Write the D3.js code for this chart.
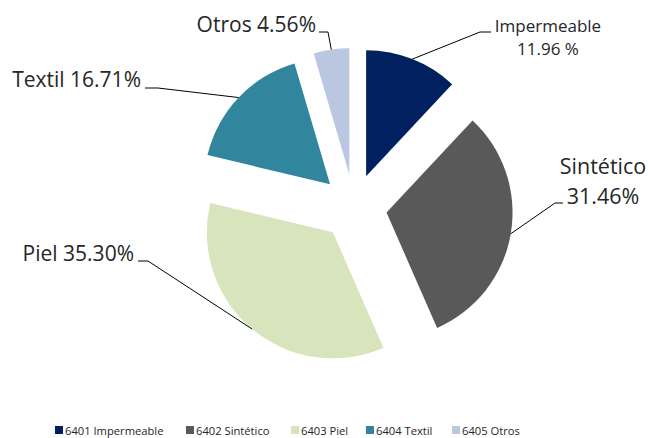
<!DOCTYPE html>
<html lang="es">
<head>
    <meta charset="UTF-8">
    <title>Calzado por tipo</title>
    <script src="https://d3js.org/d3.v7.min.js"></script>
    <style>
        body {margin: 0; background: white;}
        text {font-family: "Open Sans", "Noto Sans", sans-serif; fill: #262626;}
    </style>
</head>
<body>
<script>
    const width = 648;
    const height = 438;

    // data
    const codes = ["6401", "6402", "6403", "6404", "6405"];
    const names = ["Impermeable", "Sintético", "Piel", "Textil", "Otros"];
    const shares = [11.96, 31.46, 35.30, 16.71, 4.56];
    const pctLabels = ["11.96 %", "31.46%", "35.30%", "16.71%", "4.56%"];
    const colors = ["#002060", "#595959", "#d8e4bc", "#31859c", "#b9c7e1"];

    // label layout: leader elbow, line end, text anchor/position
    const labelLayout = [
        {elbow: [480, 32], end: [491, 32], x: 548, y: 32, gap: 23, anchor: "middle", size: 17},
        {elbow: [555, 203], end: [563, 203], x: 603, y: 174, gap: 30, anchor: "middle", size: 21.5},
        {elbow: [148, 261], end: [138, 261], x: 134, y: 261, anchor: "end", size: 21},
        {elbow: [158, 88], end: [145, 88], x: 141, y: 87, anchor: "end", size: 21},
        {elbow: [328, 32], end: [319, 32], x: 316, y: 32, anchor: "end", size: 21}
    ];

    const cx = 354, cy = 207;
    const radius = 126;
    const explode = 33;

    const svg = d3.select("body").append("svg")
            .attr("width", width).attr("height", height);

    const pie = d3.pie().sort(null).value(d => d)(shares);
    const arc = d3.arc().innerRadius(0).outerRadius(radius);
    const edge = d3.arc().innerRadius(radius).outerRadius(radius);

    const g = svg.append("g").attr("transform", `translate(${cx},${cy})`);

    function offset(d) {
        const a = (d.startAngle + d.endAngle) / 2;
        return [explode * Math.sin(a), -explode * Math.cos(a)];
    }

    g.selectAll("path.slice")
            .data(pie)
            .enter()
            .append("path")
            .attr("class", "slice")
            .attr("transform", d => `translate(${offset(d)})`)
            .attr("d", arc)
            .style("fill", (d, i) => colors[i]);

    // leader lines
    svg.selectAll("polyline.leader")
            .data(pie)
            .enter()
            .append("polyline")
            .attr("class", "leader")
            .attr("points", (d, i) => {
                const o = offset(d);
                const c = edge.centroid(d);
                const p = [cx + c[0] + o[0], cy + c[1] + o[1]];
                const L = labelLayout[i];
                return [p, L.elbow, L.end].map(q => q.join(",")).join(" ");
            })
            .style("fill", "none")
            .style("stroke", "black")
            .style("stroke-width", 1);

    // slice labels
    const labels = svg.selectAll("text.label")
            .data(pie)
            .enter()
            .append("text")
            .attr("class", "label")
            .attr("text-anchor", (d, i) => labelLayout[i].anchor)
            .style("font-size", (d, i) => labelLayout[i].size + "px");

    labels.each(function (d, i) {
        const L = labelLayout[i];
        const t = d3.select(this);
        if (L.gap) {
            t.append("tspan").attr("x", L.x).attr("y", L.y).text(names[i]);
            t.append("tspan").attr("x", L.x).attr("y", L.y + L.gap).text(pctLabels[i]);
        } else {
            t.attr("x", L.x).attr("y", L.y).text(names[i] + " " + pctLabels[i]);
        }
    });

    // legend
    const legendX = [55, 186, 291, 366, 452];
    const legend = svg.selectAll("g.legend")
            .data(codes)
            .enter()
            .append("g")
            .attr("class", "legend")
            .attr("transform", (d, i) => `translate(${legendX[i]},426)`);

    legend.append("rect")
            .attr("width", 8).attr("height", 8)
            .style("fill", (d, i) => colors[i]);

    legend.append("text")
            .attr("x", 10).attr("y", 8.5)
            .style("font-size", "11.2px")
            .text((d, i) => d + " " + names[i]);
</script>
</body>
</html>
